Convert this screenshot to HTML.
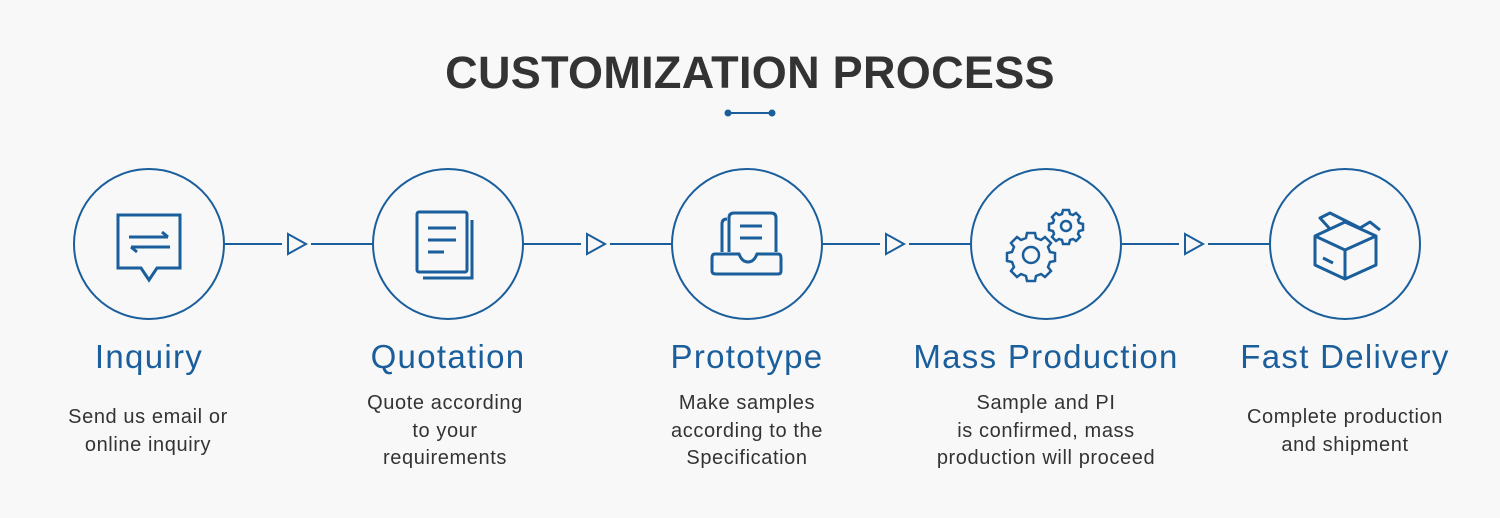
<!DOCTYPE html>
<html><head><meta charset="utf-8"><style>
html,body{margin:0;padding:0;width:1500px;height:518px;background:#f8f8f8;overflow:hidden}
.t{position:absolute;left:0;width:1500px;text-align:center;font-family:"Liberation Sans",sans-serif;font-weight:bold;font-size:45px;color:#333;top:47px;letter-spacing:0.3px}
.h{position:absolute;width:340px;text-align:center;font-family:"Liberation Sans",sans-serif;font-size:33px;color:#1a5e9c;top:338px;letter-spacing:1.3px}
.d{position:absolute;width:340px;text-align:center;font-family:"Liberation Sans",sans-serif;font-size:20px;color:#333;line-height:27.5px;letter-spacing:0.6px}
</style></head><body>
<div class="t">CUSTOMIZATION PROCESS</div>
<svg width="1500" height="518" style="position:absolute;left:0;top:0" fill="none" stroke="#1a5e9c" stroke-width="2">
<line x1="728" y1="113" x2="772" y2="113"/><circle cx="728" cy="113" r="2.5" fill="#1a5e9c"/><circle cx="772" cy="113" r="2.5" fill="#1a5e9c"/>
<circle cx="149" cy="244" r="75"/><circle cx="448" cy="244" r="75"/><circle cx="747" cy="244" r="75"/><circle cx="1046" cy="244" r="75"/><circle cx="1345" cy="244" r="75"/>
<g id="c"><line x1="224" y1="244" x2="282" y2="244"/><polygon points="288,234 306,244 288,254"/><line x1="311" y1="244" x2="373" y2="244"/></g>
<use href="#c" x="299"/><use href="#c" x="598"/><use href="#c" x="897"/>
<g stroke-width="3">
<path d="M118,215 H180 V268 H157 L149,280 L141,268 H118 Z"/>
<path d="M129,237 H168 M162,232 L168,237 M131,247 H170 M131,247 L137,252"/>
<rect x="417" y="212" width="50" height="60" rx="2"/>
<path d="M472,220 V278 H423"/>
<path d="M428,228 H456 M428,240 H456 M428,252 H444"/>
<path d="M729,252 V218 Q729,213 734,213 H771 Q776,213 776,218 V252"/>
<path d="M722,252 V224 Q722,219 727,219"/>
<path d="M715,254 H739 Q742,262 748,262 Q754,262 757,254 H778 Q781,254 781,258 V271 Q781,274 778,274 H716 Q712,274 712,271 V258 Q712,254 715,254Z"/>
<path d="M740,226 H762 M740,238 H762"/>
</g>
<g stroke-width="2.5">
<circle cx="1031" cy="255" r="8"/>
<path d="M1027,233 h8 l1,5 l5,2 l4,-3 l6,6 l-3,4 l2,5 l5,1 v8 l-5,1 l-2,5 l3,4 l-6,6 l-4,-3 l-5,2 l-1,5 h-8 l-1,-5 l-5,-2 l-4,3 l-6,-6 l3,-4 l-2,-5 l-5,-1 v-8 l5,-1 l2,-5 l-3,-4 l6,-6 l4,3 l5,-2 z"/>
<circle cx="1066" cy="226" r="5"/>
<path d="M1063,210 h6 l1,4 l3,1 l3,-2 l4,4 l-2,3 l1,3 l4,1 v6 l-4,1 l-1,3 l2,3 l-4,4 l-3,-2 l-3,1 l-1,4 h-6 l-1,-4 l-3,-1 l-3,2 l-4,-4 l2,-3 l-1,-3 l-4,-1 v-6 l4,-1 l1,-3 l-2,-3 l4,-4 l3,2 l3,-1 z"/>
</g>
<g stroke-width="3" stroke-linejoin="round">
<path d="M1315,236 L1345,222 L1376,236 L1376,265 L1345,279 L1315,265 Z"/>
<path d="M1315,236 L1345,250 L1376,236 M1345,250 V279"/>
<path d="M1330,229 L1320,218 L1330,213 L1360,228"/>
<path d="M1360,228 L1370,222 L1380,230"/>
<path d="M1323,258 L1333,263"/>
</g>
</svg>
<div class="h" style="left:-21px">Inquiry</div>
<div class="h" style="left:278px">Quotation</div>
<div class="h" style="left:577px">Prototype</div>
<div class="h" style="left:876px">Mass Production</div>
<div class="h" style="left:1175px">Fast Delivery</div>
<div class="d" style="left:-22px;top:404px">Send us email or<br>online inquiry</div>
<div class="d" style="left:275px;top:390px">Quote according<br>to your<br>requirements</div>
<div class="d" style="left:577px;top:390px">Make samples<br>according to the<br>Specification</div>
<div class="d" style="left:876px;top:390px">Sample and PI<br>is confirmed, mass<br>production will proceed</div>
<div class="d" style="left:1175px;top:404px">Complete production<br>and shipment</div>
</body></html>
